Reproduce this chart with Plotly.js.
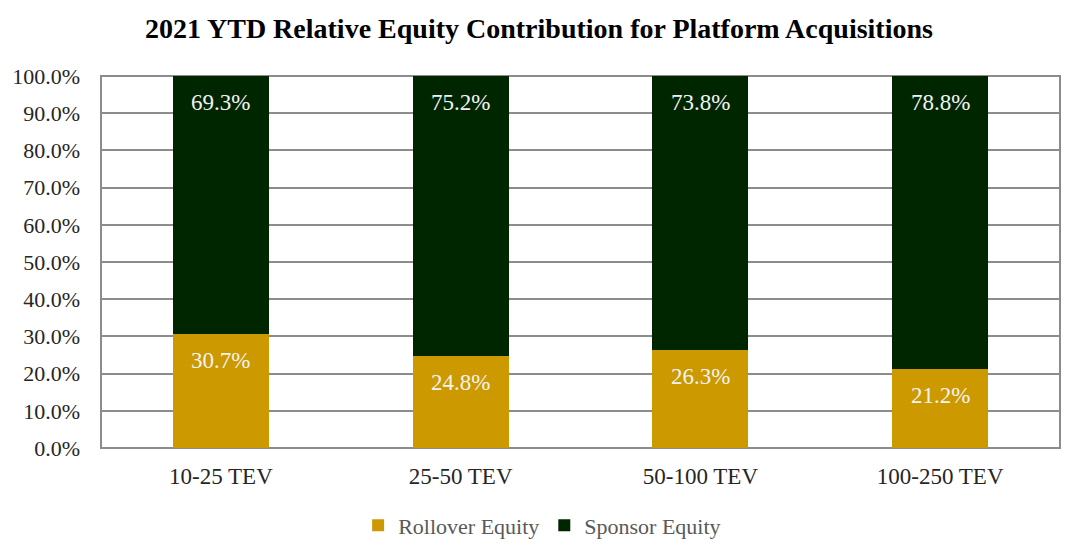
<!DOCTYPE html>
<html>
<head>
<meta charset="utf-8">
<script src="https://cdn.plot.ly/plotly-3.0.1.min.js"></script>
<style>html,body{margin:0;padding:0;background:#fff}#chart{width:1078px;height:557px}</style>
</head>
<body>
<div id="chart"></div>
<script>
var categories = ["10-25 TEV", "25-50 TEV", "50-100 TEV", "100-250 TEV"];
var rollover = [30.7, 24.8, 26.3, 21.2];
var sponsor = [69.3, 75.2, 73.8, 78.8];
var seriesNames = ["Rollover Equity", "Sponsor Equity"];
var colors = ["#CC9900", "#002600"];

var FONT = "Liberation Serif, Times New Roman, serif";

var traces = [
  {type: "bar", name: seriesNames[0], x: categories, y: rollover, marker: {color: colors[0]}, hoverinfo: "y"},
  {type: "bar", name: seriesNames[1], x: categories, y: sponsor, marker: {color: colors[1]}, hoverinfo: "y"}
];

var annotations = [];
categories.forEach(function (c, i) {
  annotations.push({x: c, y: rollover[i], yref: "y", xref: "x", text: rollover[i].toFixed(1) + "%",
    showarrow: false, yanchor: "top", yshift: -12, font: {family: FONT, size: 23, color: "#F2F2F2"}});
  annotations.push({x: c, y: Math.min(100, rollover[i] + sponsor[i]), yref: "y", xref: "x", text: sponsor[i].toFixed(1) + "%",
    showarrow: false, yanchor: "top", yshift: -12, font: {family: FONT, size: 23, color: "#F2F2F2"}});
});

var layout = {
  width: 1078, height: 557,
  margin: {l: 101, r: 18, t: 76, b: 108},
  paper_bgcolor: "#fff", plot_bgcolor: "#fff",
  barmode: "stack", bargap: 0.6,
  title: {text: "<b>2021 YTD Relative Equity Contribution for Platform Acquisitions</b>",
    x: 0.5, xanchor: "center", y: 0.95, yanchor: "middle",
    font: {family: FONT, size: 28, color: "#000"}},
  font: {family: FONT, size: 22, color: "#262626"},
  xaxis: {showgrid: false, showline: false, ticks: "", ticklabelstandoff: 12,
    tickfont: {family: FONT, size: 23, color: "#262626"}, fixedrange: true},
  yaxis: {range: [0, 100], dtick: 10, ticksuffix: "%", tickformat: ".1f",
    showgrid: true, gridcolor: "#8C8C8C", gridwidth: 2,
    showline: false, zeroline: true, zerolinecolor: "#8C8C8C", zerolinewidth: 2,
    ticks: "", ticklabelstandoff: 20, tickfont: {family: FONT, size: 22, color: "#262626"}, fixedrange: true},
  shapes: [{type: "rect", xref: "paper", yref: "paper", x0: 0, x1: 1, y0: 0, y1: 1,
    line: {color: "#8C8C8C", width: 2}, layer: "below"}],
  legend: {orientation: "h", x: 0.46, xanchor: "center", y: -0.205, yanchor: "middle",
    font: {family: FONT, size: 22, color: "#595959"}, traceorder: "normal", itemwidth: 30},
  annotations: annotations,
  showlegend: true
};

Plotly.newPlot("chart", traces, layout, {displayModeBar: false, staticPlot: true});
</script>
</body>
</html>
